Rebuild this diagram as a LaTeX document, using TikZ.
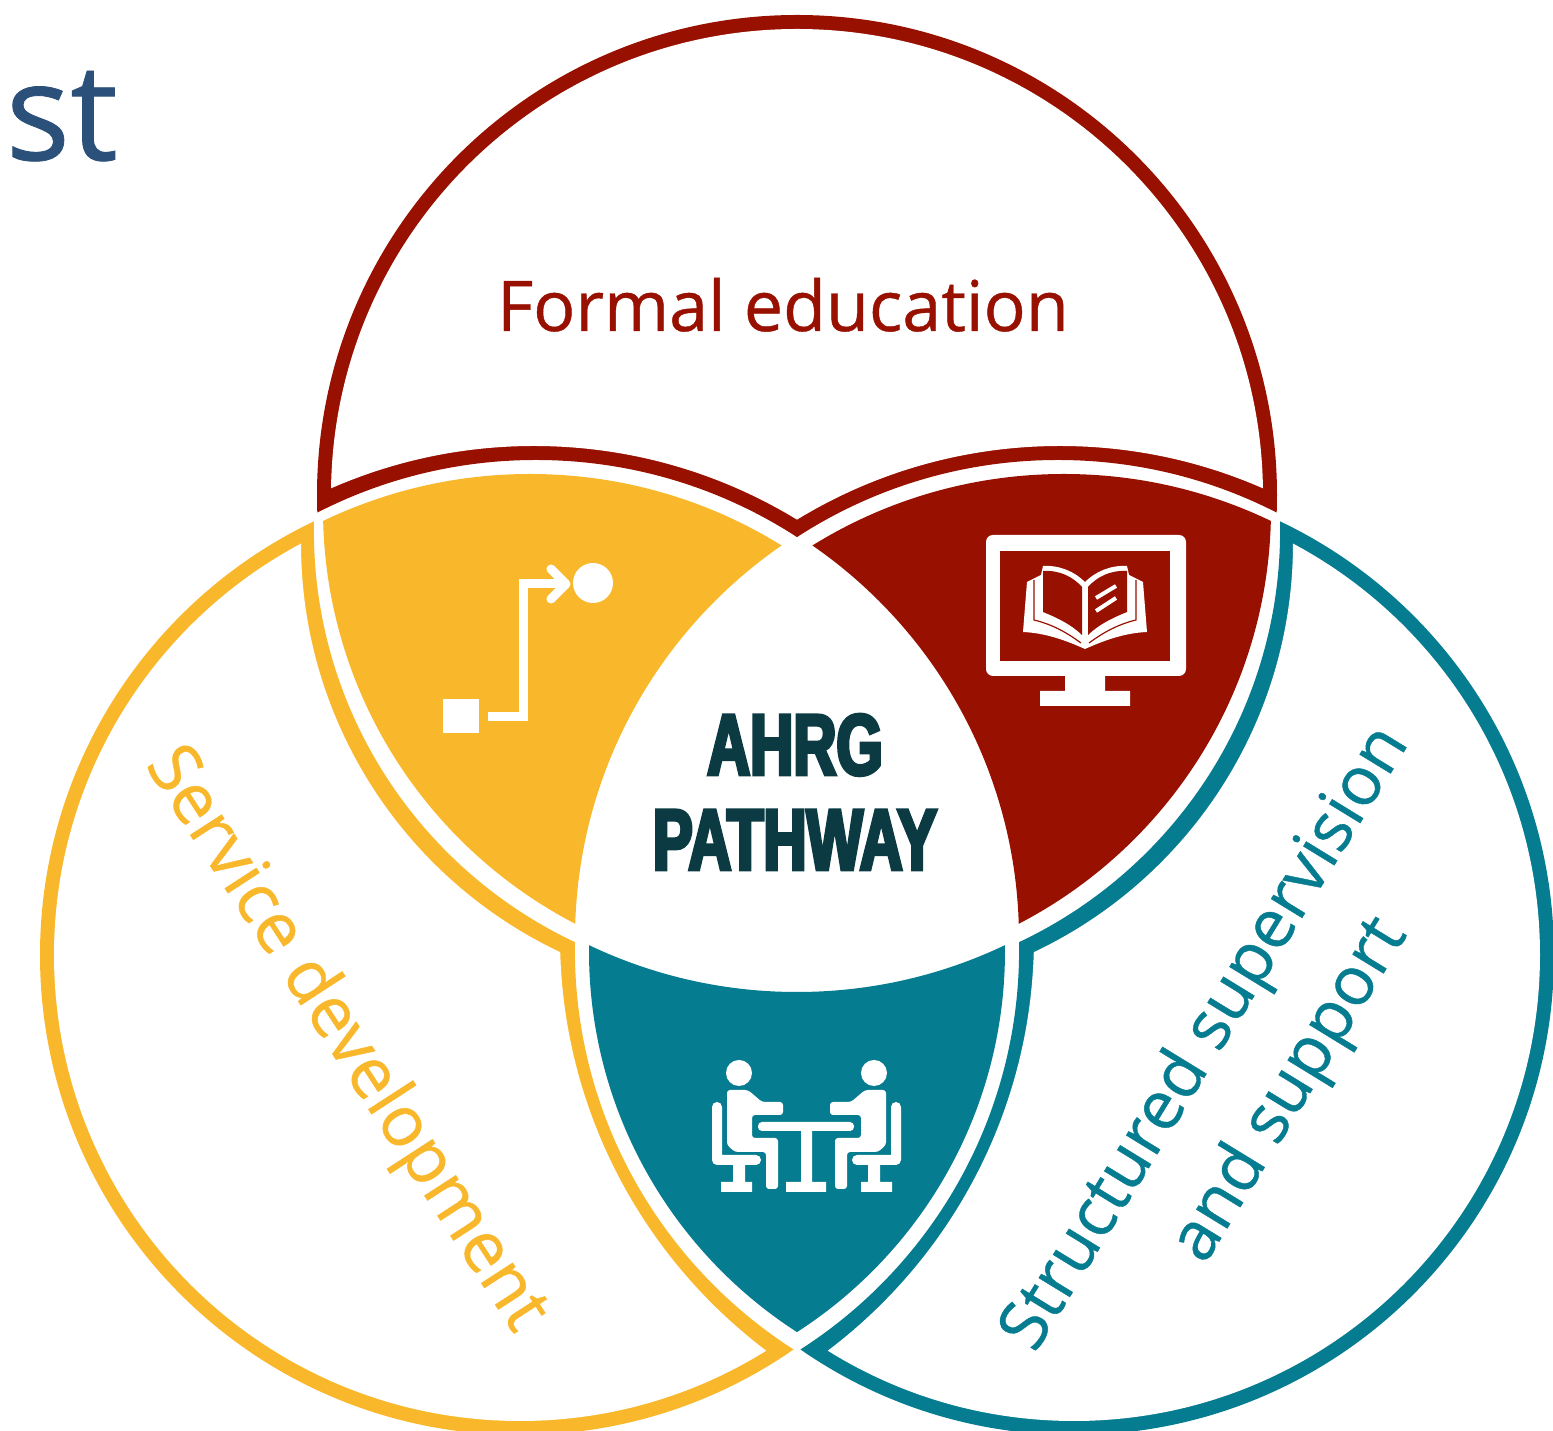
\documentclass[tikz,border=0pt]{standalone}
\usepackage{fontspec}
\setmainfont[FakeBold=0.6]{Open Sans}
\newfontfamily\impactfont[FakeStretch=0.69,FakeBold=4]{Liberation Sans}
\usetikzlibrary{positioning}
\definecolor{redc}{HTML}{981000}
\definecolor{yellowc}{HTML}{F9B82B}
\definecolor{tealc}{HTML}{067C91}
\definecolor{darkc}{HTML}{0B3A42}
\definecolor{bluec}{HTML}{2B5079}
% clips away the inside of a circle, needs the even odd rule
\newcommand{\clipout}[2]{\clip (-100,-100) rectangle (1700,1500) #1 circle (#2);}

\begin{document}
\begin{tikzpicture}[
        x=0.01cm, y=-0.01cm,
        basic/.style  = {inner sep=0pt, align=center},
        label/.style  = {basic, font=\fontsize{19.9}{28}\selectfont},
        center/.style = {basic, font=\fontsize{24.6}{27}\impactfont\bfseries, text=darkc},
        icon/.style   = {draw=white, line width=0.09cm},
        ]
        \useasboundingbox (0,0) rectangle (1553,1431);

        % red ring on top
        \begin{scope}[even odd rule]
            \clipout{(536,940)}{480}
            \clipout{(1058,940)}{480}
            \fill[redc] (797,495) circle (480);
        \end{scope}
        \begin{scope}[even odd rule]
            \clipout{(534,952)}{506}
            \clipout{(1060,952)}{506}
            \fill[white] (797,495) circle (466);
        \end{scope}

        % left ring and overlap, the right ones are their mirror image
        \foreach \f/\s/\ringcol/\lenscol in {0/1/yellowc/yellowc, 1594/-1/tealc/redc} {
            \begin{scope}[shift={(\f,0)}, xscale=\s, even odd rule]
                \begin{scope}
                    \clipout{(768.5,530.7)}{454.6}
                    \clipout{(1049.4,949.8)}{474.5}
                    \fill[\ringcol] (520,955) circle (480);
                \end{scope}
                \begin{scope}
                    \clipout{(752.8,543.4)}{451.8}
                    \clipout{(1078,937)}{518}
                    \fill[white] (520,955) circle (466);
                \end{scope}
                \begin{scope}
                    \clip (790,509) circle (467);
                    \clip (530,952) circle (478);
                    \clipout{(1053,939)}{478}
                    \fill[\lenscol] (-100,-100) rectangle (1700,1500);
                \end{scope}
            \end{scope}
        }

        % bottom overlap
        \begin{scope}[even odd rule]
            \clip (1042,951) circle (453);
            \clip (552,951) circle (453);
            \clipout{(797,508)}{484}
            \fill[tealc] (0,0) rectangle (1553,1431);
        \end{scope}

        % the route icon
        \fill[white] (443,699) rectangle (479,733);
        \fill[white] (593,583) circle (20);
        \draw[icon] (488,716.5) -- (523.5,716.5) -- (523.5,584) -- (564,584);
        \draw[icon, line cap=round, line join=round] (551,569) -- (566,584) -- (551,599);

        % the screen icon
        \fill[white, rounded corners=0.07cm] (986,535) rectangle (1186,676);
        \fill[redc] (1000,551) rectangle (1170,661);
        \fill[white] (1065,670) rectangle (1105,695) (1040,691) rectangle (1130,706);
        \fill[white] (1085,649) .. controls (1065,640) and (1045,633) .. (1023,632) -- (1027,582)
            -- (1041,575) -- (1043,566) .. controls (1060,565) and (1075,572) .. (1085,582)
            .. controls (1095,572) and (1110,565) .. (1127,566) -- (1129,575) -- (1143,582) -- (1147,632)
            .. controls (1125,633) and (1105,640) .. (1085,649) -- cycle;
        \foreach \f/\s in {0/1, 2170/-1} {
            \begin{scope}[shift={(\f,0)}, xscale=\s]
                \fill[redc] (1043,571) .. controls (1060,570) and (1073,577) .. (1082,587)
                    -- (1082,635) .. controls (1072,625) and (1058,618) .. (1043,612) -- cycle;
                \draw[redc, line width=0.012cm] (1034,580) -- (1034,620) .. controls (1055,625) and (1070,635) .. (1081,643);
            \end{scope}
        }
        \draw[white, line width=0.04cm] (1096,598) -- (1116,586) (1096,611) -- (1116,598);

        % the meeting icon, the second person is the mirror image
        \foreach \f/\s in {0/1, 1613/-1} {
            \begin{scope}[shift={(\f,0)}, xscale=\s]
                \fill[white] (739,1073) circle (13);
                \fill[white, rounded corners=0.05cm] (712,1102) rectangle (722,1165) (712,1155) rectangle (761,1165);
                \fill[white] (733,1160) rectangle (745,1185) (721,1182) rectangle (752,1192);
                \fill[white, rounded corners=0.03cm] (727,1090) -- (748,1090) -- (762,1102) -- (783,1102) -- (783,1115)
                    -- (752,1115) -- (752,1138) -- (778,1138) -- (778,1189) -- (766,1189) -- (766,1152) -- (735,1152) -- (727,1145) -- cycle;
            \end{scope}
        }
        \fill[white, rounded corners=0.04cm] (758,1122) rectangle (854,1131);
        \fill[white] (801,1125) rectangle (812,1185) (786,1182) rectangle (826,1192);

        % all the texts
        \node[basic, anchor=base west, text=bluec, font=\fontsize{38.4}{40}\selectfont] (corner) at (5,160) {st};
        \node[label, text=redc, anchor=base] (formal) at (783,331) {Formal education};
        \node[label, text=yellowc, rotate=-57] (service) at (345,1040) {Service development};
        \node[label, text=tealc, rotate=58.5, font=\fontsize{19.3}{28}\selectfont] (support) at (1249,1065) {Structured supervision\\and support};
        \node[center] (pathway) at (795,792) {AHRG\\PATHWAY};
\end{tikzpicture}
\end{document}
